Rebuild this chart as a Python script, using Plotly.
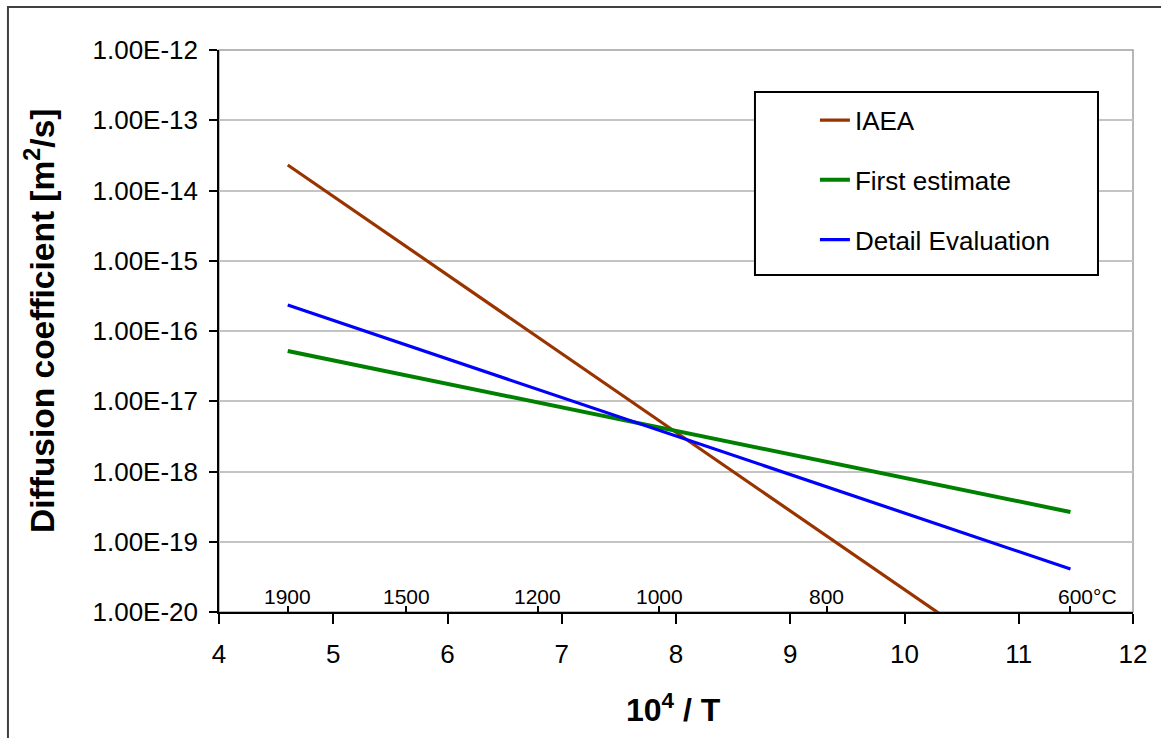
import numpy as np
import plotly.graph_objects as go

# ---- data ----
temps_C = [1900, 600]                       # line end temperatures, °C
iaea = [2.31e-14, 4.93e-22]                 # m^2/s
first_estimate = [5.19e-17, 2.65e-19]
detail_eval = [2.34e-16, 4.09e-20]

temp_labels_C = [1900, 1500, 1200, 1000, 800, 600]
temp_label_text = ["1900", "1500", "1200", "1000", "800", "600°C"]

x_ticks = [4, 5, 6, 7, 8, 9, 10, 11, 12]
y_exps = [-20, -19, -18, -17, -16, -15, -14, -13, -12]
y_tick_text = ["1.00E%d" % e for e in y_exps]

def inv_T(tc):
    return [1e4 / (t + 273.15) for t in tc]

x_line = inv_T(temps_C)
x_temp = inv_T(temp_labels_C)

FONT = "Liberation Sans, Arial, sans-serif"

fig = go.Figure()
series = [("IAEA", iaea, "#993300", 3.2),
          ("First estimate", first_estimate, "#008000", 4),
          ("Detail Evaluation", detail_eval, "#0000FF", 3.2)]
for i, (name, vals, col, w) in enumerate(series):
    fig.add_trace(go.Scatter(x=x_line, y=vals, mode="lines", name=name,
                             line=dict(color=col, width=w), legendgroup=str(i)))

# invisible trace for secondary axis (temperature ticks)
fig.add_trace(go.Scatter(x=x_temp, y=[None]*len(x_temp), xaxis="x2", showlegend=False,
                         hoverinfo="skip"))

fig.update_layout(
    width=1161, height=738,
    margin=dict(l=219, r=28, t=50, b=126),
    paper_bgcolor="white", plot_bgcolor="white",
    font=dict(family=FONT, size=26, color="black"),
    showlegend=True,
    legend=dict(x=0.652, y=0.917, xanchor="left", yanchor="top",
                bgcolor="rgba(0,0,0,0)", borderwidth=0,
                font=dict(size=26), tracegroupgap=23),
    xaxis=dict(range=[4, 12], tickvals=x_ticks, ticks="outside", ticklen=10,
               tickwidth=1.5, tickcolor="black", showline=True, linecolor="black",
               linewidth=1.5, showgrid=False, zeroline=False,
               tickfont=dict(size=26), ticklabelstandoff=8),
    xaxis2=dict(range=[4, 12], overlaying="x", anchor="y", side="bottom",
                tickvals=x_temp, ticks="inside", ticklen=6, tickwidth=1.5,
                tickcolor="black", showticklabels=False, showline=False,
                showgrid=False, zeroline=False),
    yaxis=dict(type="log", range=[-20, -12], tickvals=[10.0**e for e in y_exps],
               ticktext=y_tick_text, ticks="outside", ticklen=8, tickwidth=1.5,
               tickcolor="black", showline=True, linecolor="black", linewidth=1.5,
               showgrid=True, gridcolor="#c4c4c4", gridwidth=1.5, zeroline=False,
               tickfont=dict(size=26), ticklabelstandoff=6),
)

# plot-area border (gray)
fig.add_shape(type="rect", xref="paper", yref="paper", x0=0, x1=1, y0=0, y1=1,
              line=dict(color="#a0a0a0", width=1.5), layer="below")
# outer chart frame
fig.add_shape(type="rect", xref="paper", yref="paper", x0=-0.2309, x1=1.5,
              y0=-0.5, y1=1.0765, line=dict(color="#404040", width=2), layer="above")
# legend box
fig.add_shape(type="rect", xref="paper", yref="paper", x0=0.5864, x1=0.9617,
              y0=0.5996, y1=0.9253, line=dict(color="black", width=2),
              fillcolor="white", layer="above")

# temperature labels
for xv, txt in zip(x_temp, temp_label_text):
    if txt.endswith("°C"):
        fig.add_annotation(x=xv, y=0, xref="x", yref="paper", text=txt,
                           showarrow=False, xanchor="left", yanchor="bottom",
                           xshift=-14, yshift=2, font=dict(size=21))
    else:
        fig.add_annotation(x=xv, y=0, xref="x", yref="paper", text=txt,
                           showarrow=False, xanchor="center", yanchor="bottom",
                           yshift=2, font=dict(size=21))

# axis titles
fig.add_annotation(x=-0.1958, y=0.518, xref="paper", yref="paper",
                   xanchor="center", yanchor="middle",
                   text="<b>Diffusion coefficient [m<sup>2</sup>/s]</b>",
                   textangle=-90, showarrow=False, font=dict(size=33.5))
fig.add_annotation(x=0.497, y=-0.171, xref="paper", yref="paper",
                   xanchor="center", yanchor="middle",
                   text="<b>10<sup>4</sup> / T</b>", showarrow=False,
                   font=dict(size=32))

fig.write_html("out.html")
